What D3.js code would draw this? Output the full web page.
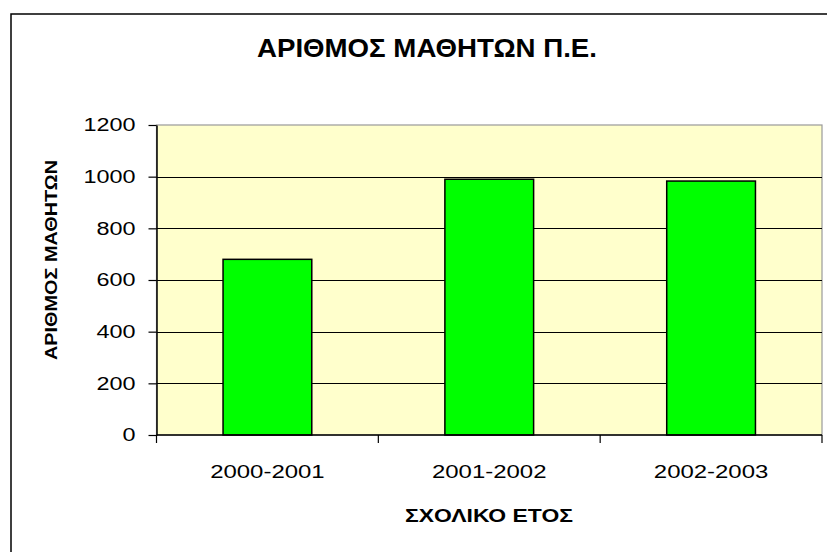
<!DOCTYPE html>
<html>
<head>
<meta charset="utf-8">
<script src="https://cdn.jsdelivr.net/npm/d3@7"></script>
<style>
  body { margin: 0; background: #fff; }
  text { font-family: "Liberation Sans", Arial, sans-serif; }
</style>
</head>
<body>
<svg id="chart" width="827" height="552"></svg>
<script>
// data
const years = ["2000-2001", "2001-2002", "2002-2003"];
const students = [680, 990, 983];
const yTicks = [0, 200, 400, 600, 800, 1000, 1200];

const svg = d3.select("#chart");
const plotL = 156.5, plotT = 125, plotR = 822, plotB = 435;

// stretch text horizontally like the original picture
function stretch(sel, k) {
  sel.each(function () {
    const w = this.getComputedTextLength();
    d3.select(this).attr("textLength", w * k).attr("lengthAdjust", "spacingAndGlyphs");
  });
}

// outer frame (only top and left show)
svg.append("path")
  .attr("d", "M11,560 V14 H840")
  .attr("fill", "none")
  .attr("stroke", "#000")
  .attr("stroke-width", 1.5);

const x = d3.scaleBand()
  .domain(years)
  .range([plotL, plotR])
  .paddingInner(0)
  .paddingOuter(0);

const y = d3.scaleLinear()
  .domain([0, 1200])
  .range([plotB, plotT]);

// plot area
svg.append("rect")
  .attr("x", plotL).attr("y", plotT)
  .attr("width", plotR - plotL).attr("height", plotB - plotT)
  .attr("fill", "#ffffcc")
  .attr("stroke", "#999")
  .attr("stroke-width", 1.2);

// gridlines
svg.append("g")
  .selectAll("line")
  .data(yTicks.filter(d => d > 0 && d < 1200))
  .enter()
  .append("line")
  .attr("x1", plotL).attr("x2", plotR)
  .attr("y1", d => Math.round(y(d)) + 0.5).attr("y2", d => Math.round(y(d)) + 0.5)
  .attr("stroke", "#000")
  .attr("stroke-width", 1);

// bars
const bw = x.bandwidth() * 0.4;
svg.append("g")
  .selectAll("rect")
  .data(students)
  .enter()
  .append("rect")
  .attr("x", (d, i) => x(years[i]) + (x.bandwidth() - bw) / 2)
  .attr("y", d => y(d))
  .attr("width", bw)
  .attr("height", d => plotB - y(d))
  .attr("fill", "#00ff00")
  .attr("stroke", "#000")
  .attr("stroke-width", 1.5);

// Y axis
const yAxis = svg.append("g")
  .attr("transform", `translate(${plotL}, 0)`)
  .call(d3.axisLeft(y).tickValues(yTicks).tickFormat(d3.format("d"))
    .tickSize(8).tickPadding(13).tickSizeOuter(0));
yAxis.select(".domain").attr("stroke", "#000").attr("stroke-width", 1.5);
yAxis.selectAll("line").attr("stroke", "#000").attr("stroke-width", 1.2);
yAxis.selectAll("text")
  .style("font-size", "18px")
  .attr("fill", "#000")
  .call(stretch, 1.3);

// X axis, ticks on band edges
const xg = svg.append("g")
  .attr("transform", `translate(0, ${plotB})`);
xg.append("line")
  .attr("x1", plotL).attr("x2", plotR)
  .attr("stroke", "#000").attr("stroke-width", 1.5);
xg.selectAll(".edge")
  .data(years.map(d => x(d)).concat([plotR]))
  .enter()
  .append("line")
  .attr("x1", d => d).attr("x2", d => d)
  .attr("y1", 0).attr("y2", 8)
  .attr("stroke", "#000").attr("stroke-width", 1.2);
xg.selectAll(".lbl")
  .data(years)
  .enter()
  .append("text")
  .attr("x", d => x(d) + x.bandwidth() / 2)
  .attr("y", 43)
  .attr("text-anchor", "middle")
  .style("font-size", "18px")
  .attr("fill", "#000")
  .text(d => d)
  .call(stretch, 1.33);

// title
svg.append("text")
  .attr("x", 427)
  .attr("y", 57)
  .attr("text-anchor", "middle")
  .style("font-size", "25px")
  .style("font-weight", "bold")
  .attr("textLength", 340)
  .attr("lengthAdjust", "spacingAndGlyphs")
  .text("ΑΡΙΘΜΟΣ ΜΑΘΗΤΩΝ Π.Ε.");

// X label
svg.append("text")
  .attr("x", 489)
  .attr("y", 522)
  .attr("text-anchor", "middle")
  .style("font-size", "18px")
  .style("font-weight", "bold")
  .attr("textLength", 168)
  .attr("lengthAdjust", "spacingAndGlyphs")
  .text("ΣΧΟΛΙΚΟ ΕΤΟΣ");

// Y label
svg.append("text")
  .attr("transform", "translate(57, 260) rotate(-90)")
  .attr("text-anchor", "middle")
  .style("font-size", "16.5px")
  .style("font-weight", "bold")
  .attr("textLength", 200)
  .attr("lengthAdjust", "spacingAndGlyphs")
  .text("ΑΡΙΘΜΟΣ ΜΑΘΗΤΩΝ");
</script>
</body>
</html>
